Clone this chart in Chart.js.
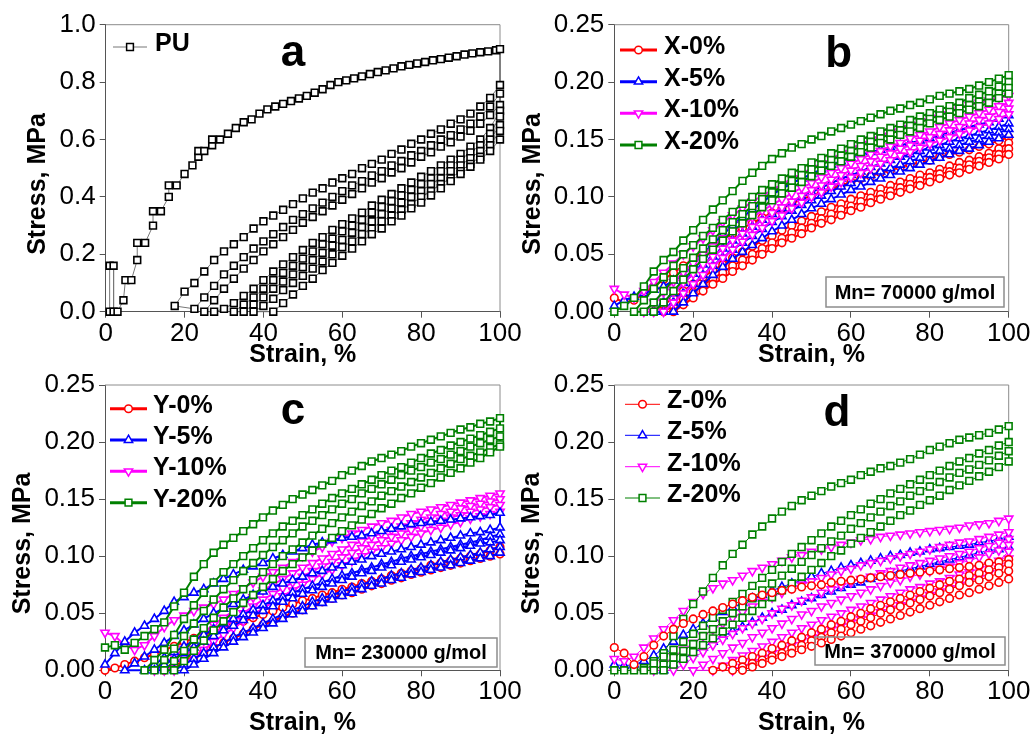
<!DOCTYPE html>
<html>
<head>
<meta charset="utf-8">
<title>Cyclic stress-strain curves</title>
<script src="https://cdn.jsdelivr.net/npm/chart.js@4/dist/chart.umd.min.js"></script>
<style>
  body { margin: 0; background: #fff; width: 1034px; height: 736px; overflow: hidden; }
  canvas { position: absolute; }
</style>
</head>
<body>
<canvas id="chartA" width="530" height="368" style="left:0;top:0"></canvas>
<canvas id="chartB" width="517" height="368" style="left:517px;top:0"></canvas>
<canvas id="chartC" width="530" height="368" style="left:0;top:368px"></canvas>
<canvas id="chartD" width="517" height="368" style="left:517px;top:368px"></canvas>
<script>
// strain sample positions (%), every curve below ends at 100 %
const strainGrid = [0,2.5,5,7.5,10,12.5,15,17.5,20,22.5,25,27.5,30,32.5,35,37.5,40,42.5,45,47.5,50,52.5,55,57.5,60,62.5,65,67.5,70,72.5,75,77.5,80,82.5,85,87.5,90,92.5,95,97.5,100];

// panel a - PU
const puLoadStrain = [1,1,2,2,3,4.5,5,6.5,8,8,10,12,12,14,16,16,18,20,22,23.5,23.5,25,27,27,29,31,33,35,37,39,41,43,45,47,49,51,53,55,57,59,61,63,65,67,69,71,73,75,77,79,81,83,85,87,89,91,93,95,97,99,100];
const puLoadStress = [0,0.16,0.16,0,0,0.04,0.11,0.11,0.18,0.24,0.24,0.30,0.35,0.35,0.40,0.44,0.44,0.48,0.51,0.54,0.56,0.56,0.58,0.60,0.60,0.62,0.64,0.66,0.67,0.69,0.705,0.715,0.724,0.734,0.743,0.752,0.763,0.775,0.79,0.80,0.806,0.813,0.82,0.828,0.835,0.841,0.848,0.855,0.86,0.865,0.87,0.876,0.88,0.885,0.89,0.896,0.90,0.904,0.907,0.911,0.915];
const puCycles = [
  [0.02,0.07,0.10,0.14,0.18,0.21,0.235,0.26,0.29,0.315,0.335,0.355,0.375,0.395,0.415,0.43,0.45,0.465,0.48,0.50,0.515,0.53,0.55,0.565,0.585,0.60,0.62,0.635,0.655,0.67,0.69,0.715,0.745,0.79],
  [0.01,0.05,0.09,0.13,0.16,0.19,0.22,0.245,0.27,0.295,0.32,0.34,0.36,0.38,0.40,0.42,0.44,0.455,0.475,0.49,0.51,0.525,0.545,0.56,0.58,0.60,0.615,0.635,0.655,0.68,0.715,0.76],
  [0.0,0.04,0.08,0.115,0.15,0.18,0.21,0.235,0.26,0.285,0.31,0.33,0.35,0.37,0.39,0.41,0.43,0.45,0.465,0.485,0.50,0.52,0.54,0.555,0.575,0.59,0.61,0.63,0.655,0.685,0.72],
  [0.0,0.01,0.03,0.055,0.08,0.11,0.14,0.165,0.19,0.215,0.24,0.26,0.285,0.305,0.325,0.345,0.37,0.39,0.41,0.43,0.45,0.47,0.49,0.51,0.53,0.55,0.575,0.60,0.64,0.70],
  [0.0,0.025,0.05,0.08,0.11,0.135,0.16,0.185,0.21,0.235,0.255,0.28,0.30,0.32,0.345,0.365,0.385,0.405,0.425,0.445,0.465,0.49,0.51,0.53,0.555,0.58,0.62,0.68],
  [0.0,0.025,0.05,0.08,0.105,0.13,0.155,0.18,0.205,0.23,0.25,0.275,0.295,0.315,0.34,0.36,0.38,0.40,0.42,0.445,0.465,0.49,0.51,0.535,0.56,0.60,0.65],
  [0.0,0.02,0.045,0.075,0.10,0.125,0.15,0.175,0.20,0.225,0.245,0.27,0.29,0.315,0.335,0.355,0.375,0.40,0.42,0.445,0.465,0.49,0.515,0.54,0.58,0.63],
  [0.0,0.03,0.06,0.09,0.115,0.145,0.17,0.195,0.22,0.245,0.27,0.29,0.315,0.335,0.36,0.38,0.405,0.43,0.455,0.48,0.505,0.53,0.56,0.60]
];

// panel b - X series, Mn 70000
const x0Load = [0.012,0.008,0.010,0.016,0.022,0.028,0.034,0.040,0.046,0.052,0.057,0.063,0.068,0.073,0.077,0.082,0.086,0.090,0.094,0.098,0.101,0.104,0.107,0.110,0.113,0.116,0.118,0.121,0.123,0.126,0.128,0.130,0.132,0.135,0.137,0.139,0.141,0.144,0.146,0.149,0.152];
const x0Cycles = [
  [0.0,0.006,0.012,0.018,0.024,0.030,0.036,0.041,0.047,0.052,0.057,0.062,0.066,0.071,0.075,0.079,0.083,0.087,0.091,0.094,0.098,0.101,0.104,0.107,0.110,0.113,0.116,0.119,0.121,0.124,0.127,0.130,0.132,0.135,0.138,0.142,0.147],
  [0.0,0.005,0.011,0.017,0.023,0.029,0.034,0.040,0.045,0.050,0.055,0.060,0.064,0.069,0.073,0.077,0.081,0.085,0.089,0.092,0.096,0.099,0.102,0.105,0.108,0.111,0.114,0.117,0.120,0.122,0.125,0.128,0.131,0.134,0.137,0.142],
  [0.0,0.006,0.012,0.018,0.024,0.029,0.035,0.040,0.045,0.050,0.055,0.060,0.064,0.068,0.073,0.077,0.080,0.084,0.088,0.091,0.095,0.098,0.101,0.104,0.107,0.110,0.113,0.116,0.119,0.121,0.124,0.127,0.130,0.133,0.137]
];
const x5Load = [0.005,0.010,0.013,0.016,0.019,0.022,0.027,0.032,0.041,0.050,0.059,0.067,0.075,0.082,0.089,0.095,0.102,0.107,0.112,0.116,0.120,0.124,0.128,0.131,0.134,0.137,0.139,0.141,0.143,0.145,0.147,0.149,0.151,0.154,0.156,0.158,0.161,0.163,0.165,0.168,0.171];
const x5Cycles = [
  [0.0,0.008,0.016,0.025,0.033,0.041,0.048,0.055,0.062,0.068,0.074,0.080,0.085,0.090,0.095,0.100,0.104,0.108,0.112,0.116,0.119,0.122,0.126,0.129,0.132,0.135,0.137,0.140,0.143,0.145,0.148,0.151,0.153,0.156,0.158,0.161,0.164],
  [0.0,0.008,0.016,0.024,0.032,0.040,0.047,0.054,0.060,0.066,0.072,0.078,0.083,0.088,0.093,0.097,0.101,0.105,0.109,0.112,0.116,0.119,0.122,0.125,0.128,0.131,0.134,0.137,0.140,0.142,0.145,0.148,0.150,0.153,0.156,0.159],
  [0.0,0.008,0.016,0.024,0.032,0.039,0.046,0.052,0.058,0.064,0.070,0.075,0.080,0.085,0.090,0.094,0.098,0.102,0.106,0.109,0.113,0.116,0.119,0.122,0.125,0.128,0.131,0.134,0.137,0.140,0.142,0.145,0.148,0.151,0.154]
];
const x10Load = [0.020,0.015,0.012,0.018,0.026,0.034,0.042,0.050,0.057,0.064,0.071,0.078,0.084,0.090,0.096,0.101,0.106,0.111,0.116,0.120,0.125,0.129,0.133,0.138,0.142,0.146,0.150,0.153,0.157,0.160,0.163,0.166,0.169,0.172,0.175,0.177,0.180,0.182,0.184,0.186,0.188];
const x10Cycles = [
  [0.0,0.008,0.017,0.026,0.034,0.042,0.050,0.057,0.064,0.070,0.076,0.082,0.088,0.093,0.098,0.103,0.108,0.112,0.117,0.121,0.125,0.129,0.133,0.137,0.140,0.144,0.147,0.151,0.154,0.157,0.161,0.164,0.167,0.170,0.173,0.176,0.179,0.182],
  [0.0,0.008,0.017,0.025,0.033,0.041,0.048,0.055,0.062,0.068,0.074,0.080,0.086,0.091,0.096,0.101,0.106,0.110,0.115,0.119,0.123,0.127,0.131,0.135,0.138,0.142,0.145,0.149,0.152,0.155,0.158,0.161,0.164,0.167,0.170,0.174,0.177],
  [0.0,0.008,0.016,0.024,0.032,0.040,0.047,0.054,0.061,0.067,0.073,0.079,0.084,0.090,0.095,0.100,0.104,0.109,0.113,0.117,0.121,0.125,0.129,0.132,0.136,0.139,0.143,0.146,0.149,0.152,0.155,0.158,0.161,0.164,0.168,0.172]
];
const x20Load = [0.0,0.005,0.012,0.022,0.035,0.045,0.052,0.062,0.071,0.080,0.089,0.097,0.105,0.114,0.121,0.127,0.133,0.138,0.143,0.146,0.150,0.153,0.157,0.160,0.163,0.166,0.169,0.172,0.175,0.177,0.180,0.182,0.185,0.188,0.190,0.192,0.194,0.197,0.200,0.203,0.206];
const x20Cycles = [
  [0.0,0.010,0.020,0.030,0.040,0.050,0.058,0.066,0.073,0.080,0.087,0.094,0.100,0.106,0.111,0.116,0.121,0.125,0.130,0.134,0.138,0.142,0.146,0.150,0.153,0.157,0.160,0.163,0.167,0.170,0.173,0.176,0.179,0.182,0.186,0.189,0.192,0.196,0.200],
  [0.0,0.008,0.018,0.028,0.038,0.047,0.055,0.063,0.071,0.078,0.085,0.092,0.098,0.104,0.109,0.114,0.119,0.124,0.128,0.132,0.136,0.140,0.144,0.148,0.151,0.155,0.158,0.162,0.165,0.168,0.171,0.174,0.177,0.180,0.183,0.186,0.190,0.195],
  [0.0,0.008,0.018,0.028,0.037,0.046,0.054,0.062,0.070,0.077,0.084,0.091,0.097,0.103,0.108,0.113,0.118,0.123,0.127,0.131,0.135,0.139,0.143,0.147,0.150,0.154,0.157,0.160,0.164,0.167,0.170,0.173,0.176,0.179,0.182,0.186,0.190]
];

// panel c - Y series, Mn 230000
const y0Load = [0.000,0.002,0.005,0.008,0.011,0.014,0.018,0.021,0.025,0.028,0.031,0.034,0.037,0.040,0.043,0.046,0.049,0.052,0.055,0.058,0.061,0.063,0.066,0.068,0.071,0.073,0.076,0.078,0.080,0.083,0.085,0.087,0.089,0.092,0.094,0.096,0.098,0.100,0.102,0.105,0.108];
const y0Cycles = [
  [0.0,0.004,0.008,0.012,0.016,0.020,0.024,0.028,0.032,0.036,0.040,0.043,0.047,0.050,0.053,0.057,0.060,0.063,0.066,0.068,0.071,0.074,0.076,0.079,0.081,0.084,0.086,0.088,0.090,0.092,0.094,0.096,0.098,0.100,0.102]
];
const y5Load = [0.005,0.015,0.025,0.033,0.039,0.045,0.052,0.060,0.064,0.068,0.071,0.076,0.080,0.084,0.088,0.091,0.094,0.098,0.101,0.104,0.107,0.110,0.112,0.114,0.116,0.117,0.118,0.120,0.122,0.124,0.126,0.128,0.129,0.130,0.131,0.132,0.133,0.134,0.135,0.136,0.138];
const y5Cycles = [
  [0.0,0.006,0.012,0.018,0.024,0.030,0.035,0.040,0.045,0.050,0.054,0.058,0.062,0.066,0.069,0.073,0.076,0.079,0.082,0.085,0.087,0.090,0.092,0.095,0.097,0.100,0.102,0.104,0.106,0.108,0.110,0.112,0.114,0.116,0.118,0.120,0.121,0.123,0.125],
  [0.0,0.005,0.011,0.016,0.021,0.026,0.031,0.036,0.041,0.045,0.049,0.053,0.057,0.061,0.064,0.068,0.071,0.074,0.077,0.080,0.083,0.085,0.088,0.090,0.093,0.095,0.098,0.100,0.102,0.104,0.106,0.108,0.110,0.112,0.114,0.117,0.119],
  [0.0,0.005,0.010,0.015,0.020,0.025,0.030,0.035,0.039,0.044,0.048,0.052,0.056,0.060,0.063,0.067,0.070,0.073,0.076,0.079,0.082,0.085,0.087,0.090,0.092,0.095,0.097,0.099,0.101,0.103,0.105,0.107,0.109,0.111,0.112,0.114],
  [0.0,0.005,0.010,0.015,0.020,0.024,0.029,0.033,0.037,0.041,0.045,0.049,0.053,0.056,0.060,0.063,0.066,0.069,0.072,0.075,0.078,0.080,0.083,0.085,0.088,0.090,0.092,0.095,0.097,0.099,0.101,0.103,0.106,0.108],
  [0.0,0.005,0.010,0.015,0.020,0.025,0.029,0.033,0.037,0.041,0.045,0.049,0.052,0.056,0.059,0.062,0.065,0.068,0.071,0.074,0.076,0.079,0.081,0.084,0.086,0.088,0.090,0.092,0.094,0.096,0.098,0.100,0.103]
];
const y10Load = [0.033,0.030,0.022,0.018,0.022,0.030,0.038,0.044,0.048,0.052,0.055,0.058,0.062,0.067,0.072,0.077,0.082,0.086,0.090,0.095,0.100,0.104,0.108,0.113,0.116,0.120,0.123,0.126,0.129,0.131,0.134,0.137,0.139,0.141,0.143,0.145,0.147,0.149,0.151,0.153,0.155];
const y10Cycles = [
  [0.0,0.006,0.012,0.019,0.026,0.033,0.040,0.046,0.052,0.058,0.064,0.070,0.075,0.080,0.085,0.090,0.094,0.098,0.102,0.106,0.110,0.113,0.117,0.120,0.123,0.126,0.129,0.132,0.134,0.137,0.139,0.142,0.144,0.146,0.148,0.150],
  [0.0,0.006,0.012,0.019,0.026,0.032,0.038,0.044,0.050,0.056,0.062,0.067,0.072,0.077,0.082,0.087,0.091,0.095,0.099,0.103,0.107,0.110,0.114,0.117,0.120,0.123,0.126,0.129,0.131,0.134,0.136,0.139,0.141,0.143,0.145],
  [0.0,0.006,0.012,0.018,0.025,0.031,0.037,0.043,0.049,0.054,0.060,0.065,0.070,0.075,0.080,0.084,0.088,0.092,0.096,0.100,0.104,0.107,0.111,0.114,0.117,0.120,0.123,0.125,0.128,0.130,0.133,0.135,0.137,0.139]
];
const y20Load = [0.020,0.022,0.018,0.024,0.030,0.036,0.042,0.056,0.068,0.082,0.093,0.103,0.110,0.116,0.122,0.128,0.134,0.140,0.145,0.150,0.154,0.158,0.162,0.166,0.171,0.175,0.179,0.183,0.186,0.189,0.192,0.196,0.199,0.202,0.205,0.208,0.211,0.213,0.216,0.218,0.221];
const y20Cycles = [
  [0.0,0.009,0.018,0.031,0.045,0.057,0.068,0.077,0.086,0.093,0.100,0.107,0.114,0.120,0.126,0.131,0.136,0.141,0.146,0.151,0.155,0.159,0.163,0.167,0.171,0.175,0.178,0.182,0.186,0.190,0.193,0.197,0.200,0.203,0.206,0.209,0.212],
  [0.0,0.009,0.019,0.030,0.041,0.052,0.062,0.071,0.079,0.087,0.094,0.101,0.108,0.114,0.120,0.126,0.131,0.136,0.141,0.146,0.150,0.155,0.159,0.163,0.167,0.171,0.175,0.178,0.182,0.185,0.189,0.192,0.196,0.199,0.202,0.205],
  [0.0,0.008,0.017,0.027,0.037,0.046,0.055,0.063,0.071,0.079,0.086,0.093,0.100,0.106,0.112,0.118,0.124,0.129,0.134,0.139,0.144,0.148,0.153,0.157,0.161,0.165,0.169,0.173,0.177,0.181,0.185,0.188,0.191,0.195,0.198],
  [0.0,0.008,0.017,0.026,0.035,0.043,0.051,0.059,0.066,0.073,0.080,0.087,0.093,0.099,0.105,0.111,0.116,0.122,0.127,0.132,0.137,0.142,0.146,0.151,0.155,0.160,0.164,0.169,0.173,0.177,0.182,0.186,0.191,0.196]
];

// panel d - Z series, Mn 370000
const z0Load = [0.020,0.015,0.005,0.012,0.022,0.030,0.036,0.041,0.045,0.049,0.052,0.055,0.058,0.061,0.064,0.066,0.068,0.070,0.071,0.073,0.074,0.075,0.077,0.078,0.079,0.080,0.081,0.082,0.083,0.084,0.085,0.086,0.087,0.088,0.089,0.090,0.091,0.092,0.094,0.095,0.097];
const z0Cycles = [
  [0.0,0.003,0.006,0.009,0.012,0.015,0.019,0.022,0.026,0.029,0.033,0.036,0.040,0.043,0.047,0.050,0.054,0.057,0.060,0.063,0.066,0.069,0.072,0.075,0.078,0.080,0.083,0.085,0.088,0.090,0.093],
  [0.0,0.003,0.006,0.009,0.012,0.015,0.019,0.022,0.026,0.029,0.033,0.036,0.040,0.043,0.046,0.050,0.053,0.056,0.059,0.062,0.065,0.068,0.071,0.074,0.077,0.079,0.082,0.085,0.087],
  [0.0,0.003,0.006,0.009,0.012,0.015,0.018,0.021,0.024,0.027,0.030,0.033,0.036,0.039,0.042,0.045,0.048,0.051,0.054,0.057,0.060,0.063,0.066,0.068,0.071,0.074,0.077,0.080]
];
const z5Load = [0.005,0.004,0.005,0.008,0.013,0.019,0.025,0.031,0.036,0.041,0.046,0.051,0.055,0.059,0.063,0.066,0.070,0.073,0.076,0.079,0.082,0.085,0.087,0.090,0.092,0.094,0.096,0.098,0.100,0.101,0.103,0.104,0.106,0.107,0.108,0.109,0.110,0.112,0.113,0.115,0.117];
const z5Cycles = [
  [0.0,0.005,0.010,0.015,0.020,0.025,0.030,0.034,0.038,0.042,0.046,0.050,0.053,0.057,0.060,0.063,0.066,0.069,0.072,0.075,0.077,0.080,0.082,0.085,0.087,0.089,0.091,0.093,0.095,0.097,0.099,0.101,0.103,0.105,0.106,0.108]
];
const z10Load = [0.010,0.008,0.012,0.020,0.028,0.036,0.044,0.052,0.060,0.067,0.072,0.076,0.079,0.083,0.087,0.090,0.093,0.096,0.099,0.101,0.104,0.106,0.108,0.110,0.112,0.114,0.115,0.117,0.118,0.119,0.120,0.121,0.122,0.123,0.124,0.125,0.127,0.128,0.129,0.131,0.133];
const z10Cycles = [
  [0.0,0.006,0.012,0.018,0.024,0.030,0.036,0.041,0.046,0.051,0.056,0.060,0.064,0.068,0.072,0.075,0.078,0.081,0.084,0.087,0.089,0.092,0.094,0.096,0.098,0.100,0.102,0.104,0.106,0.108,0.110,0.112,0.113,0.115,0.117,0.119,0.121],
  [0.0,0.005,0.011,0.016,0.022,0.027,0.032,0.037,0.041,0.045,0.050,0.054,0.057,0.061,0.064,0.068,0.071,0.074,0.077,0.080,0.082,0.085,0.087,0.090,0.092,0.094,0.096,0.098,0.100,0.102,0.104,0.107,0.109,0.112,0.115],
  [0.0,0.005,0.010,0.015,0.020,0.024,0.029,0.033,0.037,0.041,0.045,0.049,0.052,0.056,0.059,0.062,0.065,0.068,0.071,0.074,0.077,0.079,0.082,0.084,0.087,0.089,0.091,0.094,0.096,0.099,0.102,0.105,0.110],
  [0.0,0.004,0.009,0.013,0.017,0.021,0.025,0.029,0.033,0.037,0.040,0.044,0.047,0.050,0.053,0.056,0.059,0.062,0.065,0.068,0.071,0.073,0.076,0.078,0.081,0.084,0.086,0.089,0.092,0.096,0.104],
  [0.0,0.003,0.007,0.011,0.015,0.019,0.022,0.026,0.029,0.032,0.036,0.039,0.042,0.045,0.048,0.051,0.054,0.057,0.060,0.063,0.066,0.069,0.072,0.075,0.078,0.081,0.085,0.089,0.098]
];
const z20Load = [0.0,0.0,0.0,0.002,0.008,0.015,0.030,0.045,0.058,0.069,0.081,0.092,0.102,0.110,0.119,0.126,0.133,0.139,0.144,0.149,0.153,0.157,0.161,0.164,0.167,0.171,0.174,0.177,0.179,0.182,0.185,0.189,0.193,0.196,0.199,0.202,0.204,0.206,0.208,0.211,0.214];
const z20Cycles = [
  [0.0,0.006,0.012,0.018,0.025,0.032,0.039,0.046,0.053,0.060,0.067,0.074,0.081,0.088,0.095,0.102,0.108,0.114,0.120,0.126,0.131,0.136,0.141,0.146,0.150,0.155,0.159,0.163,0.167,0.171,0.175,0.179,0.183,0.186,0.190,0.193,0.197,0.200],
  [0.0,0.005,0.011,0.017,0.023,0.030,0.036,0.043,0.050,0.056,0.063,0.070,0.076,0.083,0.089,0.095,0.101,0.107,0.113,0.118,0.124,0.129,0.134,0.139,0.144,0.148,0.153,0.157,0.161,0.165,0.169,0.173,0.176,0.180,0.184,0.188,0.192],
  [0.0,0.005,0.010,0.016,0.022,0.028,0.034,0.040,0.046,0.052,0.058,0.064,0.070,0.076,0.082,0.088,0.094,0.100,0.105,0.111,0.116,0.121,0.126,0.131,0.136,0.140,0.145,0.149,0.153,0.158,0.162,0.166,0.170,0.174,0.178,0.183]
];

const FONT = '"Liberation Sans", Arial, sans-serif';
const RED = '#ff0000', BLUE = '#0000ff', MAGENTA = '#ff00ff', GREEN = '#008000';

// curve values sit on the last ys.length entries of strainGrid
function curvePoints(ys) {
  const off = strainGrid.length - ys.length;
  return ys.map((y, i) => ({ x: strainGrid[off + i], y: y }));
}

// loading curve, then the unloading / reloading curves one after the other
function cyclePath(loadPts, cycles) {
  let pts = loadPts;
  cycles.forEach((c, i) => {
    const p = curvePoints(c);
    pts = pts.concat(i % 2 === 0 ? p.reverse() : p);
  });
  return pts;
}

const markers = {
  circle: { pointStyle: 'circle', pointRadius: 3.8, pointRotation: 0 },
  up: { pointStyle: 'triangle', pointRadius: 4.8, pointRotation: 0 },
  down: { pointStyle: 'triangle', pointRadius: 4.8, pointRotation: 180 },
  square: { pointStyle: 'rect', pointRadius: 4.8, pointRotation: 0 }
};

function series(label, data, color, marker, lineWidth, order) {
  return Object.assign({
    label: label,
    data: data,
    showLine: true,
    borderColor: color,
    backgroundColor: color,
    borderWidth: lineWidth,
    pointBorderColor: color,
    pointBackgroundColor: '#fff',
    pointBorderWidth: 1.6,
    clip: 10,
    order: order
  }, markers[marker]);
}

function drawMarker(ctx, style, x, y, r, rot) {
  ctx.beginPath();
  if (style === 'circle') {
    ctx.arc(x, y, r, 0, Math.PI * 2);
  } else if (style === 'rect') {
    const s = r * Math.SQRT1_2;
    ctx.rect(x - s, y - s, 2 * s, 2 * s);
  } else {
    let a = (rot || 0) * Math.PI / 180;
    ctx.moveTo(x + Math.sin(a) * r, y - Math.cos(a) * r);
    a += 2 * Math.PI / 3;
    ctx.lineTo(x + Math.sin(a) * r, y - Math.cos(a) * r);
    a += 2 * Math.PI / 3;
    ctx.lineTo(x + Math.sin(a) * r, y - Math.cos(a) * r);
    ctx.closePath();
  }
  ctx.fill();
  ctx.stroke();
}

// frame, y title, panel letter, legend and Mn box
const panelDeco = {
  id: 'panelDeco',
  beforeDatasetsDraw(chart) {
    const ctx = chart.ctx, a = chart.chartArea;
    ctx.save();
    ctx.strokeStyle = '#8c8c8c';
    ctx.lineWidth = 1;
    ctx.beginPath();
    ctx.moveTo(a.left, a.top);
    ctx.lineTo(a.right, a.top);
    ctx.lineTo(a.right, a.bottom);
    ctx.stroke();
    ctx.restore();
  },
  afterDraw(chart, args, o) {
    const ctx = chart.ctx;
    ctx.save();

    ctx.save();
    ctx.translate(o.ytitle.x, o.ytitle.y);
    ctx.rotate(-Math.PI / 2);
    ctx.fillStyle = '#000';
    ctx.font = 'bold 25px ' + FONT;
    ctx.textAlign = 'center';
    ctx.textBaseline = 'middle';
    ctx.fillText('Stress, MPa', 0, 0);
    ctx.restore();

    ctx.fillStyle = '#000';
    ctx.font = 'bold 44px ' + FONT;
    ctx.textAlign = 'center';
    ctx.textBaseline = 'alphabetic';
    ctx.fillText(o.letter.text, o.letter.x, o.letter.y);

    const lg = o.legend;
    chart.data.datasets.forEach((ds, i) => {
      const y = lg.rows[i];
      ctx.strokeStyle = ds.borderColor;
      ctx.lineWidth = lg.lineWidth;
      ctx.beginPath();
      ctx.moveTo(lg.x0, y);
      ctx.lineTo(lg.x1, y);
      ctx.stroke();
      ctx.fillStyle = '#fff';
      ctx.strokeStyle = ds.pointBorderColor;
      ctx.lineWidth = 1.5;
      drawMarker(ctx, ds.pointStyle, (lg.x0 + lg.x1) / 2, y, ds.pointRadius, ds.pointRotation);
      ctx.fillStyle = '#000';
      ctx.font = 'bold 25px ' + FONT;
      ctx.textAlign = 'left';
      ctx.textBaseline = 'middle';
      ctx.fillText(ds.label, lg.textX, y - 3);
    });

    if (o.box) {
      const b = o.box;
      ctx.strokeStyle = '#8c8c8c';
      ctx.lineWidth = 1.5;
      ctx.strokeRect(b.x, b.y, b.w, b.h);
      ctx.fillStyle = '#000';
      ctx.font = 'bold 20px ' + FONT;
      ctx.textAlign = 'center';
      ctx.textBaseline = 'middle';
      ctx.fillText(b.text, b.x + b.w / 2, b.y + b.h / 2 + 1);
    }
    ctx.restore();
  }
};

function axisCommon() {
  return {
    grid: { drawOnChartArea: false, drawTicks: true, tickLength: 6, color: '#555', lineWidth: 1 },
    border: { color: '#555', width: 1 }
  };
}

function makePanel(id, datasets, cfg) {
  new Chart(document.getElementById(id), {
    type: 'scatter',
    data: { datasets: datasets },
    plugins: [panelDeco],
    options: {
      responsive: false,
      animation: false,
      devicePixelRatio: 1,
      layout: { padding: { left: 0, top: cfg.top, right: cfg.right, bottom: 0 } },
      plugins: {
        legend: { display: false },
        tooltip: { enabled: false },
        panelDeco: { letter: cfg.letter, legend: cfg.legend, box: cfg.box, ytitle: cfg.ytitle }
      },
      scales: {
        x: Object.assign(axisCommon(), {
          type: 'linear', min: 0, max: 100,
          afterFit: function (s) { s.height = cfg.xh; },
          ticks: { stepSize: 20, color: '#000', padding: 3, font: { family: FONT, size: 26, lineHeight: 1 } },
          title: { display: true, text: 'Strain, %', color: '#000', padding: { top: 0, bottom: 0 },
                   font: { family: FONT, size: 25, weight: 'bold', lineHeight: 1 } }
        }),
        y: Object.assign(axisCommon(), {
          type: 'linear', min: 0, max: cfg.ymax,
          afterFit: function (s) { s.width = cfg.yw; },
          ticks: { stepSize: cfg.ystep, color: '#000', padding: 4, font: { family: FONT, size: 26, lineHeight: 1 },
                   callback: function (v) { return v.toFixed(cfg.dec); } }
        })
      }
    }
  });
}

const puLoadPts = puLoadStrain.map((x, i) => ({ x: x, y: puLoadStress[i] }));
const puSet = series('PU', cyclePath(puLoadPts, puCycles), '#777', 'square', 1, 0);
puSet.pointBorderColor = '#000';

makePanel('chartA', [puSet], {
  top: 24.7, right: 30, yw: 105.7, xh: 56.3, ymax: 1, ystep: 0.2, dec: 1,
  ytitle: { x: 38.5, y: 184 },
  letter: { text: 'a', x: 293, y: 66 },
  legend: { x0: 113, x1: 147, textX: 155, rows: [47], lineWidth: 1 }
});

makePanel('chartB', [
  series('X-0%', cyclePath(curvePoints(x0Load), x0Cycles), RED, 'circle', 2, 3),
  series('X-5%', cyclePath(curvePoints(x5Load), x5Cycles), BLUE, 'up', 2, 2),
  series('X-10%', cyclePath(curvePoints(x10Load), x10Cycles), MAGENTA, 'down', 2, 1),
  series('X-20%', cyclePath(curvePoints(x20Load), x20Cycles), GREEN, 'square', 2, 0)
], {
  top: 24.7, right: 25.3, yw: 97.3, xh: 56.3, ymax: 0.25, ystep: 0.05, dec: 2,
  ytitle: { x: 16, y: 184 },
  letter: { text: 'b', x: 321.7, y: 66.7 },
  legend: { x0: 103, x1: 140, textX: 147, rows: [50, 81.7, 113.3, 145], lineWidth: 3 },
  box: { x: 309, y: 277, w: 178, h: 30, text: 'Mn= 70000 g/mol' }
});

makePanel('chartC', [
  series('Y-0%', cyclePath(curvePoints(y0Load), y0Cycles), RED, 'circle', 2, 3),
  series('Y-5%', cyclePath(curvePoints(y5Load), y5Cycles), BLUE, 'up', 2, 1),
  series('Y-10%', cyclePath(curvePoints(y10Load), y10Cycles), MAGENTA, 'down', 2, 2),
  series('Y-20%', cyclePath(curvePoints(y20Load), y20Cycles), GREEN, 'square', 2, 0)
], {
  top: 14.7, right: 30, yw: 105, xh: 65.7, ymax: 0.25, ystep: 0.05, dec: 2,
  ytitle: { x: 23.5, y: 175.5 },
  letter: { text: 'c', x: 293, y: 56.3 },
  legend: { x0: 110, x1: 147, textX: 153, rows: [40.7, 72, 103.3, 134.7], lineWidth: 3 },
  box: { x: 305, y: 270, w: 192, h: 29, text: 'Mn= 230000 g/mol' }
});

makePanel('chartD', [
  series('Z-0%', cyclePath(curvePoints(z0Load), z0Cycles), RED, 'circle', 1, 0),
  series('Z-5%', cyclePath(curvePoints(z5Load), z5Cycles), BLUE, 'up', 1, 3),
  series('Z-10%', cyclePath(curvePoints(z10Load), z10Cycles), MAGENTA, 'down', 1, 2),
  series('Z-20%', cyclePath(curvePoints(z20Load), z20Cycles), GREEN, 'square', 1, 1)
], {
  top: 14.7, right: 25.3, yw: 97.3, xh: 65.7, ymax: 0.25, ystep: 0.05, dec: 2,
  ytitle: { x: 15.5, y: 175.5 },
  letter: { text: 'd', x: 320, y: 58 },
  legend: { x0: 108, x1: 143, textX: 150, rows: [36.3, 67.3, 98.7, 130], lineWidth: 1 },
  box: { x: 298, y: 269, w: 190, h: 28, text: 'Mn= 370000 g/mol' }
});
</script>
</body>
</html>
